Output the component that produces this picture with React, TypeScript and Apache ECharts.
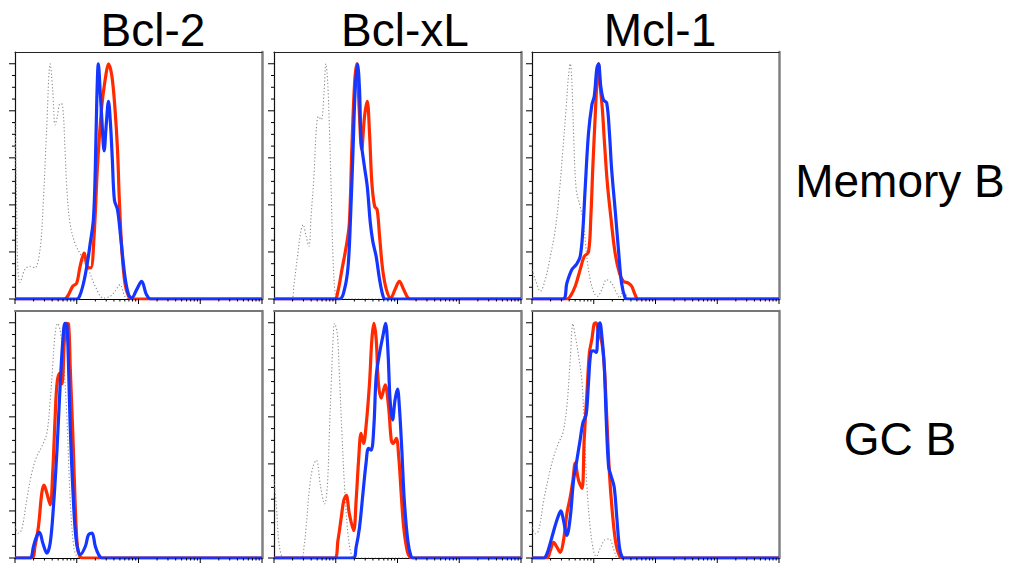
import React, { useEffect, useRef } from 'react';
import * as echarts from 'echarts';

const columnTitles = ['Bcl-2', 'Bcl-xL', 'Mcl-1'];
const rowTitles = ['Memory B', 'GC B'];

// each point: [position in decades from axis start, % of max]
const bcl2MemGray = [[0,75],[0.02,50],[0.045,14],[0.08,7],[0.16,12.5],[0.24,13.9],[0.32,13.2],[0.405,21],[0.46,42],[0.51,70.5],[0.57,100],[0.61,89],[0.65,74],[0.686,77.6],[0.73,83],[0.77,82.6],[0.81,63.5],[0.84,46.5],[0.89,32.3],[0.97,23.8],[1.08,18],[1.19,12.5],[1.3,5.4],[1.43,0.4],[1.54,1.1],[1.62,3.3],[1.7,6.1],[1.78,1.1],[1.85,0],[4,0]];
const bcl2MemRed = [[0,0],[0.8,0],[0.865,1.8],[0.935,5.4],[1.0,6.8],[1.054,13.9],[1.12,19.5],[1.17,13.9],[1.227,13.2],[1.28,26.6],[1.335,56],[1.405,81.9],[1.476,96],[1.514,100],[1.57,94.6],[1.62,80.5],[1.66,63.5],[1.69,42],[1.73,21],[1.78,6.8],[1.84,1.1],[1.9,0],[4,0]];
const bcl2MemBlue = [[0,0],[1.0,0],[1.05,1.5],[1.11,6.8],[1.17,15],[1.22,24],[1.27,34],[1.3,55],[1.325,85],[1.35,100],[1.38,88],[1.405,77],[1.443,63],[1.48,75],[1.514,84],[1.545,75],[1.575,60],[1.61,42],[1.66,38],[1.71,26.6],[1.78,9.6],[1.84,1.8],[1.89,0.4],[1.97,4],[2.05,7.5],[2.13,1.8],[2.2,0],[4,0]];

const bclxlMemGray = [[0,0],[0.29,0],[0.32,5.4],[0.38,18],[0.43,28],[0.47,31.6],[0.52,26.6],[0.566,22.4],[0.6,35],[0.647,52],[0.685,72],[0.72,77.6],[0.765,76.2],[0.81,87.5],[0.84,100],[0.87,91.8],[0.9,70.5],[0.93,42],[0.955,18],[0.99,2.5],[1.03,0],[4,0]];
const bclxlMemRed = [[0,0],[0.98,0],[1.035,3.3],[1.1,12.5],[1.17,22.4],[1.22,32.3],[1.26,63.5],[1.305,91.8],[1.34,100],[1.38,80.4],[1.42,63.5],[1.466,77.6],[1.51,84],[1.547,70.5],[1.585,49.3],[1.63,39.4],[1.67,38],[1.71,26.6],[1.76,12.5],[1.82,4],[1.89,0.4],[1.96,4],[2.03,7.5],[2.1,4],[2.17,0.4],[2.22,0],[4,0]];
const bclxlMemBlue = [[0,0],[1.06,0],[1.14,4],[1.2,13.9],[1.24,35],[1.28,63.5],[1.315,89],[1.353,100],[1.385,89],[1.41,67.7],[1.456,57.8],[1.51,47.9],[1.56,32.3],[1.6,24.5],[1.655,18],[1.71,8.2],[1.76,1.8],[1.8,0],[4,0]];

const mcl1MemGray = [[0,12.5],[0.054,8.2],[0.135,3.3],[0.215,8.2],[0.296,18],[0.377,29.5],[0.447,46.5],[0.5,63.5],[0.555,82],[0.59,94.6],[0.62,100],[0.646,91.8],[0.673,70.5],[0.716,46.5],[0.78,39.4],[0.834,32.3],[0.888,18],[0.942,8.2],[1.007,2.5],[1.06,1.1],[1.13,4],[1.21,8.2],[1.29,6.8],[1.37,2.5],[1.42,0.4],[1.47,3],[1.52,2],[1.58,0],[4,0]];
const mcl1MemRed = [[0,0],[0.565,0],[0.62,1.1],[0.7,5.4],[0.78,12.5],[0.845,18],[0.915,20],[0.953,35],[0.985,56],[1.023,77.6],[1.05,91.8],[1.077,100],[1.1,91.8],[1.14,80.5],[1.174,66.3],[1.22,49.3],[1.276,35],[1.346,19.5],[1.416,11],[1.48,7.5],[1.56,6.8],[1.615,5.4],[1.67,1.8],[1.72,0],[4,0]];
const mcl1MemBlue = [[0,0],[0.5,0],[0.565,6.8],[0.646,12.5],[0.716,14.6],[0.78,18],[0.824,29.5],[0.86,46.5],[0.915,70.5],[0.97,82.6],[1.007,86],[1.05,98],[1.077,100],[1.114,90.4],[1.157,84.7],[1.21,83.3],[1.254,70.5],[1.29,55],[1.346,38],[1.4,21],[1.45,6.8],[1.51,0.4],[1.55,0],[4,0]];

const bcl2GcGray = [[0,13.4],[0.054,10.6],[0.108,12],[0.19,24.7],[0.27,36],[0.35,43],[0.434,47.4],[0.515,53],[0.57,67],[0.61,81.3],[0.65,95.5],[0.69,99.7],[0.73,97],[0.786,84],[0.84,60],[0.894,24.7],[0.95,5],[1.0,0.7],[1.05,0],[4,0]];
const bcl2GcRed = [[0,0],[0.27,0],[0.325,5],[0.38,13.4],[0.434,27.6],[0.47,31],[0.515,27.6],[0.57,22.6],[0.61,36],[0.65,60],[0.68,74],[0.72,78.5],[0.76,74],[0.8,92.6],[0.83,99.7],[0.867,99.4],[0.894,81.3],[0.94,50],[0.976,22],[1.01,5],[1.05,0.7],[1.1,0],[4,0]];
const bcl2GcBlue = [[0,0],[0.24,0],[0.3,5],[0.35,9.2],[0.396,10.9],[0.45,6.4],[0.515,2.1],[0.57,6.4],[0.623,22],[0.68,46],[0.73,72.8],[0.775,92.6],[0.81,99.7],[0.84,99],[0.867,81.3],[0.894,55.9],[0.94,27.6],[0.99,7.8],[1.057,1.4],[1.14,5],[1.19,9.9],[1.247,10.6],[1.3,5],[1.355,1.4],[1.41,0],[4,0]];

const bclxlGcGray = [[0,33],[0.04,21.6],[0.075,7.4],[0.12,1],[0.16,0],[0.44,0],[0.485,4.6],[0.52,13.1],[0.577,30.2],[0.63,38.7],[0.685,41.6],[0.755,30.2],[0.82,23],[0.863,30.2],[0.9,55.8],[0.927,74.4],[0.954,91.5],[0.98,99.7],[1.024,95.7],[1.06,77.2],[1.1,53],[1.143,30.2],[1.197,10.3],[1.25,1.7],[1.3,0],[4,0]];
const bclxlGcRed = [[0,0],[0.98,0],[1.035,7.4],[1.09,17.4],[1.13,24.5],[1.17,26.6],[1.22,18.8],[1.29,11.7],[1.33,24.5],[1.37,41.6],[1.41,53],[1.45,48.7],[1.49,55.8],[1.547,74.4],[1.585,92.9],[1.617,99.7],[1.655,92.9],[1.69,74.4],[1.736,68],[1.8,73.6],[1.855,64.4],[1.9,50],[1.93,48.7],[1.98,50.9],[2.02,43],[2.06,27.4],[2.1,13.1],[2.156,3.1],[2.2,0.3],[2.25,0],[4,0]];
const bclxlGcBlue = [[0,0],[1.28,0],[1.33,4.6],[1.385,13.1],[1.44,27.4],[1.49,40.2],[1.53,46.6],[1.574,45.9],[1.617,55.8],[1.655,77.2],[1.71,87.2],[1.763,94.3],[1.806,99.7],[1.844,88.6],[1.88,67.2],[1.92,58.7],[1.96,67.2],[2.0,71.8],[2.03,64.4],[2.07,45.9],[2.11,24.5],[2.167,7.4],[2.22,0.6],[2.26,0],[4,0]];

const mcl1GcGray = [[0,13.1],[0.054,10.3],[0.108,11.7],[0.19,24.6],[0.27,34.6],[0.35,43],[0.43,48.9],[0.5,53.1],[0.565,64.6],[0.62,84.6],[0.662,99.6],[0.7,94.6],[0.754,86],[0.81,74.6],[0.845,56],[0.89,30.3],[0.942,13.1],[0.996,3.1],[1.04,0.6],[1.1,3.9],[1.18,7.7],[1.254,8.1],[1.32,3.9],[1.37,0.3],[1.4,0],[4,0]];
const mcl1GcRed = [[0,0],[0.24,0],[0.296,3.1],[0.35,6.7],[0.404,4.6],[0.458,2.4],[0.51,7.4],[0.565,18.9],[0.62,26],[0.662,33],[0.7,40.3],[0.754,33],[0.81,29.6],[0.845,50.3],[0.89,70.3],[0.93,87.4],[0.97,93],[1.007,99.6],[1.04,100],[1.077,96],[1.13,91.7],[1.17,81.7],[1.21,60.3],[1.254,36],[1.308,17.4],[1.36,6],[1.416,1],[1.46,0],[4,0]];
const mcl1GcBlue = [[0,0],[0.19,0],[0.24,1.7],[0.307,7.4],[0.377,13.9],[0.43,18.1],[0.468,20],[0.51,16],[0.565,9.6],[0.62,17.4],[0.673,33],[0.727,41.7],[0.78,50.3],[0.824,57.4],[0.877,61],[0.915,74.6],[0.953,87.4],[0.996,88.1],[1.04,87.4],[1.07,97.4],[1.1,100],[1.13,94.6],[1.17,81.7],[1.2,60.3],[1.24,38.9],[1.276,35.3],[1.33,30.3],[1.373,17.4],[1.416,4.6],[1.46,0.3],[1.5,0],[4,0]];

const panelCurves = [
  [bcl2MemGray, bcl2MemRed, bcl2MemBlue],
  [bclxlMemGray, bclxlMemRed, bclxlMemBlue],
  [mcl1MemGray, mcl1MemRed, mcl1MemBlue],
  [bcl2GcGray, bcl2GcRed, bcl2GcBlue],
  [bclxlGcGray, bclxlGcRed, bclxlGcBlue],
  [mcl1GcGray, mcl1GcRed, mcl1GcBlue],
];

const yMajorTicks = [0, 20, 40, 60, 80, 100];
const yMinorTicks = [5, 10, 15, 25, 30, 35, 45, 50, 55, 65, 70, 75, 85, 90, 95];
const xMajorDecades = [0, 1, 2, 3, 4];
const xMinorFactors = [2, 3, 4, 5, 6, 7, 8, 9];

const X_MIN = 1;
const X_MAX = 10000;
const Y_MAX = 105;

const PANEL_LEFTS = [15, 274, 532];
const PANEL_TOPS = [52, 311];
const PANEL_SIZE = 247;

const RED = '#ff2a00';
const BLUE = '#1436ff';
const GRAY = '#8a8a8a';

function buildTickData() {
  const d: any[] = [];
  yMajorTicks.forEach((v) => d.push([X_MIN, v, 0]));
  yMinorTicks.forEach((v) => d.push([X_MIN, v, 1]));
  xMajorDecades.forEach((u) => d.push([Math.pow(10, u), 0, 2]));
  xMajorDecades.slice(0, -1).forEach((u) =>
    xMinorFactors.forEach((f) => d.push([f * Math.pow(10, u), 0, 3]))
  );
  return d;
}

function buildOption() {
  const grid: any[] = [];
  const xAxis: any[] = [];
  const yAxis: any[] = [];
  const series: any[] = [];
  const tickData = buildTickData();

  for (let i = 0; i < 6; i++) {
    const r = Math.floor(i / 3);
    const c = i % 3;
    grid.push({ left: PANEL_LEFTS[c], top: PANEL_TOPS[r], width: PANEL_SIZE, height: PANEL_SIZE, containLabel: false });
    const baseX = { type: 'log', logBase: 10, min: X_MIN, max: X_MAX, gridIndex: i, axisLabel: { show: false }, axisTick: { show: false }, splitLine: { show: false } };
    const baseY = { type: 'value', min: 0, max: Y_MAX, gridIndex: i, axisLabel: { show: false }, axisTick: { show: false }, splitLine: { show: false } };
    xAxis.push({ ...baseX, position: 'bottom', axisLine: { show: true, onZero: false, lineStyle: { color: '#000', width: 1.2 } } });
    xAxis.push({ ...baseX, position: 'top', axisLine: { show: true, onZero: false, lineStyle: { color: r === 0 ? '#222' : '#777', width: r === 0 ? 1.2 : 2 } } });
    yAxis.push({ ...baseY, position: 'left', axisLine: { show: true, onZero: false, lineStyle: { color: '#111', width: 1.2 } } });
    yAxis.push({ ...baseY, position: 'right', axisLine: { show: true, onZero: false, lineStyle: { color: '#808080', width: 2.5 } } });

    const [g, rd, b] = panelCurves[i];
    const toData = (arr: number[][]) => arr.map(([u, v]) => [Math.pow(10, u), v]);
    const common = { type: 'line', xAxisIndex: 2 * i, yAxisIndex: 2 * i, showSymbol: false, smooth: 0.35, silent: true };
    series.push({ ...common, name: 'control', z: 2, data: toData(g), lineStyle: { color: GRAY, width: 1.1, type: [1.2, 2.2] } });
    series.push({ ...common, name: 'red', z: 3, data: toData(rd), lineStyle: { color: RED, width: 3.2 } });
    series.push({ ...common, name: 'blue', z: 4, data: toData(b), lineStyle: { color: BLUE, width: 3.2 } });

    series.push({
      type: 'custom',
      xAxisIndex: 2 * i,
      yAxisIndex: 2 * i,
      silent: true,
      z: 5,
      clip: false,
      encode: { x: 0, y: 1 },
      data: tickData,
      renderItem: (params: any, api: any) => {
        const x = api.value(0);
        const y = api.value(1);
        const t = api.value(2);
        const p = api.coord([x, y]);
        let shape;
        if (t === 0) shape = { x1: p[0] - 6, y1: p[1], x2: p[0], y2: p[1] };
        else if (t === 1) shape = { x1: p[0] - 3, y1: p[1], x2: p[0], y2: p[1] };
        else if (t === 2) shape = { x1: p[0], y1: p[1], x2: p[0], y2: p[1] + 5 };
        else shape = { x1: p[0], y1: p[1], x2: p[0], y2: p[1] + 2.5 };
        return { type: 'line', shape, style: { stroke: '#000', lineWidth: 1 } };
      },
    });
  }

  const font = '46px "Liberation Sans", Arial, Helvetica, sans-serif';
  const titleX = [153, 405, 660];
  const graphic: any[] = [];
  columnTitles.forEach((t, k) =>
    graphic.push({ type: 'text', x: titleX[k], y: 30, style: { text: t, font, fill: '#000', textAlign: 'center', textVerticalAlign: 'middle' } })
  );
  const rowY = [181, 439];
  rowTitles.forEach((t, k) =>
    graphic.push({ type: 'text', x: 900, y: rowY[k], style: { text: t, font, fill: '#000', textAlign: 'center', textVerticalAlign: 'middle' } })
  );

  return { animation: false, backgroundColor: '#fff', grid, xAxis, yAxis, series, graphic };
}

export default function App() {
  const ref = useRef<HTMLDivElement>(null);
  useEffect(() => {
    if (!ref.current) return;
    const chart = echarts.init(ref.current, undefined, { renderer: 'svg' });
    chart.setOption(buildOption() as any);
    return () => chart.dispose();
  }, []);
  return <div ref={ref} style={{ position: 'fixed', left: 0, top: 0, width: 1018, height: 563, background: '#fff' }} />;
}
